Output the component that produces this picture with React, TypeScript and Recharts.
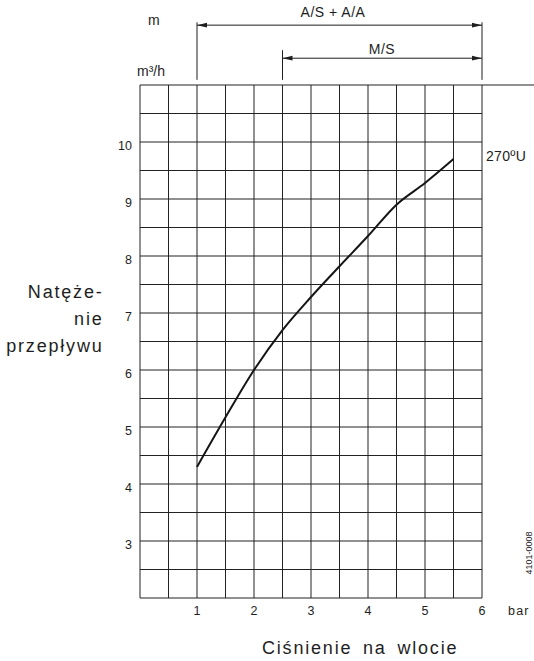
import React from 'react';
import { LineChart, Line, XAxis, YAxis, CartesianGrid, ReferenceLine } from 'recharts';

// Data
const pressure = [1, 1.5, 2, 2.5, 3, 3.5, 4, 4.5, 5, 5.5];
const flow = [4.3, 5.17, 6.0, 6.7, 7.28, 7.82, 8.35, 8.9, 9.28, 9.7];

const xTicks = [0, 0.5, 1, 1.5, 2, 2.5, 3, 3.5, 4, 4.5, 5, 5.5, 6];
const yTicks = [2, 2.5, 3, 3.5, 4, 4.5, 5, 5.5, 6, 6.5, 7, 7.5, 8, 8.5, 9, 9.5, 10, 10.5, 11];
const xLabels = [1, 2, 3, 4, 5, 6];
const yLabels = [3, 4, 5, 6, 7, 8, 9, 10];

// Range annotations (pressure from/to, drawn above the grid in data units)
const rangeAS = { label: 'A/S + A/A', from: 1, to: 6, level: 12.05, top: 12.1 };
const rangeMS = { label: 'M/S', from: 2.5, to: 6, level: 11.47, top: 11.61 };
const tickBase = 11.09;

const data = pressure.map((p, i) => ({ p, q: flow[i] }));

const FONT = '"Liberation Sans", Arial, sans-serif';
const INK = '#1e1e1e';

const XTick = (props: any) => {
  const { x, y, payload } = props;
  if (!xLabels.includes(payload.value)) return <g />;
  return (
    <text x={x} y={y + 9} textAnchor="middle" fontSize={12.5} fill={INK} fontFamily={FONT}>
      {payload.value}
    </text>
  );
};

const YTick = (props: any) => {
  const { x, y, payload } = props;
  if (!yLabels.includes(payload.value)) return <g />;
  return (
    <text x={x} y={y + 7.5} textAnchor="end" fontSize={12.5} fill={INK} fontFamily={FONT}>
      {payload.value}
    </text>
  );
};

const ArrowShape = (props: any) => {
  const { x1, y1, x2, y2 } = props;
  const L = 10;
  const H = 2.4;
  return (
    <g>
      <line x1={x1} y1={y1} x2={x2} y2={y2} stroke={INK} strokeWidth={1} />
      <polygon points={`${x1},${y1} ${x1 + L},${y1 - H} ${x1 + L},${y1 + H}`} fill={INK} />
      <polygon points={`${x2},${y2} ${x2 - L},${y2 - H} ${x2 - L},${y2 + H}`} fill={INK} />
    </g>
  );
};

export default function App() {
  return (
    <div style={{ position: 'absolute', left: 0, top: 0, width: 534, height: 661, background: '#fff' }}>
      <LineChart
        width={534}
        height={661}
        data={data}
        margin={{ top: 85, right: 52, bottom: 33, left: 0 }}
      >
        <CartesianGrid stroke="#222" strokeWidth={1} />
        <XAxis
          dataKey="p"
          type="number"
          domain={[0, 6]}
          ticks={xTicks}
          interval={0}
          tickLine={false}
          axisLine={false}
          height={30}
          tick={<XTick />}
        />
        <YAxis
          type="number"
          domain={[2, 11]}
          ticks={yTicks}
          interval={0}
          tickLine={false}
          axisLine={false}
          width={140}
          tick={<YTick />}
        />
        <ReferenceLine
          segment={[{ x: 6, y: 11 }, { x: 6.95, y: 11 }]}
          ifOverflow="visible"
          stroke="#222"
          strokeWidth={1}
        />
        <ReferenceLine
          segment={[{ x: rangeAS.from, y: rangeAS.top }, { x: rangeAS.from, y: tickBase }]}
          ifOverflow="visible"
          stroke={INK}
          strokeWidth={1}
        />
        <ReferenceLine
          segment={[{ x: rangeAS.to, y: rangeAS.top }, { x: rangeAS.to, y: tickBase }]}
          ifOverflow="visible"
          stroke={INK}
          strokeWidth={1}
        />
        <ReferenceLine
          segment={[{ x: rangeMS.from, y: rangeMS.top }, { x: rangeMS.from, y: tickBase }]}
          ifOverflow="visible"
          stroke={INK}
          strokeWidth={1}
        />
        <ReferenceLine
          segment={[{ x: rangeAS.from, y: rangeAS.level }, { x: rangeAS.to, y: rangeAS.level }]}
          ifOverflow="visible"
          shape={ArrowShape}
        />
        <ReferenceLine
          segment={[{ x: rangeMS.from, y: rangeMS.level }, { x: rangeMS.to, y: rangeMS.level }]}
          ifOverflow="visible"
          shape={ArrowShape}
        />
        <Line
          type="monotone"
          dataKey="q"
          stroke="#151515"
          strokeWidth={2}
          dot={false}
          isAnimationActive={false}
        />
      </LineChart>
      <svg
        width={534}
        height={661}
        style={{ position: 'absolute', left: 0, top: 0, pointerEvents: 'none' }}
        fontFamily={FONT}
        fill={INK}
      >
        <text x={148} y={25} fontSize={14}>m</text>
        <text x={137} y={76} fontSize={14}>m³/h</text>
        <text x={333} y={17} fontSize={14} textAnchor="middle" letterSpacing={0.5}>{rangeAS.label}</text>
        <text x={382} y={53.5} fontSize={14} textAnchor="middle" letterSpacing={0.5}>{rangeMS.label}</text>
        <text x={486} y={161} fontSize={14} letterSpacing={0.3}>270ºU</text>
        <text x={508} y={615} fontSize={12.5} letterSpacing={1.2}>bar</text>
        <text x={262} y={654} fontSize={18} letterSpacing={1.8} wordSpacing={4}>Ciśnienie na wlocie</text>
        <text x={103.5} y={298} fontSize={18} letterSpacing={1.8} textAnchor="end">Natęże-</text>
        <text x={103.5} y={325} fontSize={18} letterSpacing={1.8} textAnchor="end">nie</text>
        <text x={103.5} y={352} fontSize={18} letterSpacing={1.8} textAnchor="end">przepływu</text>
        <text x={532} y={553} fontSize={9} textAnchor="middle" transform="rotate(-90 532 553)">4101-0008</text>
      </svg>
    </div>
  );
}
